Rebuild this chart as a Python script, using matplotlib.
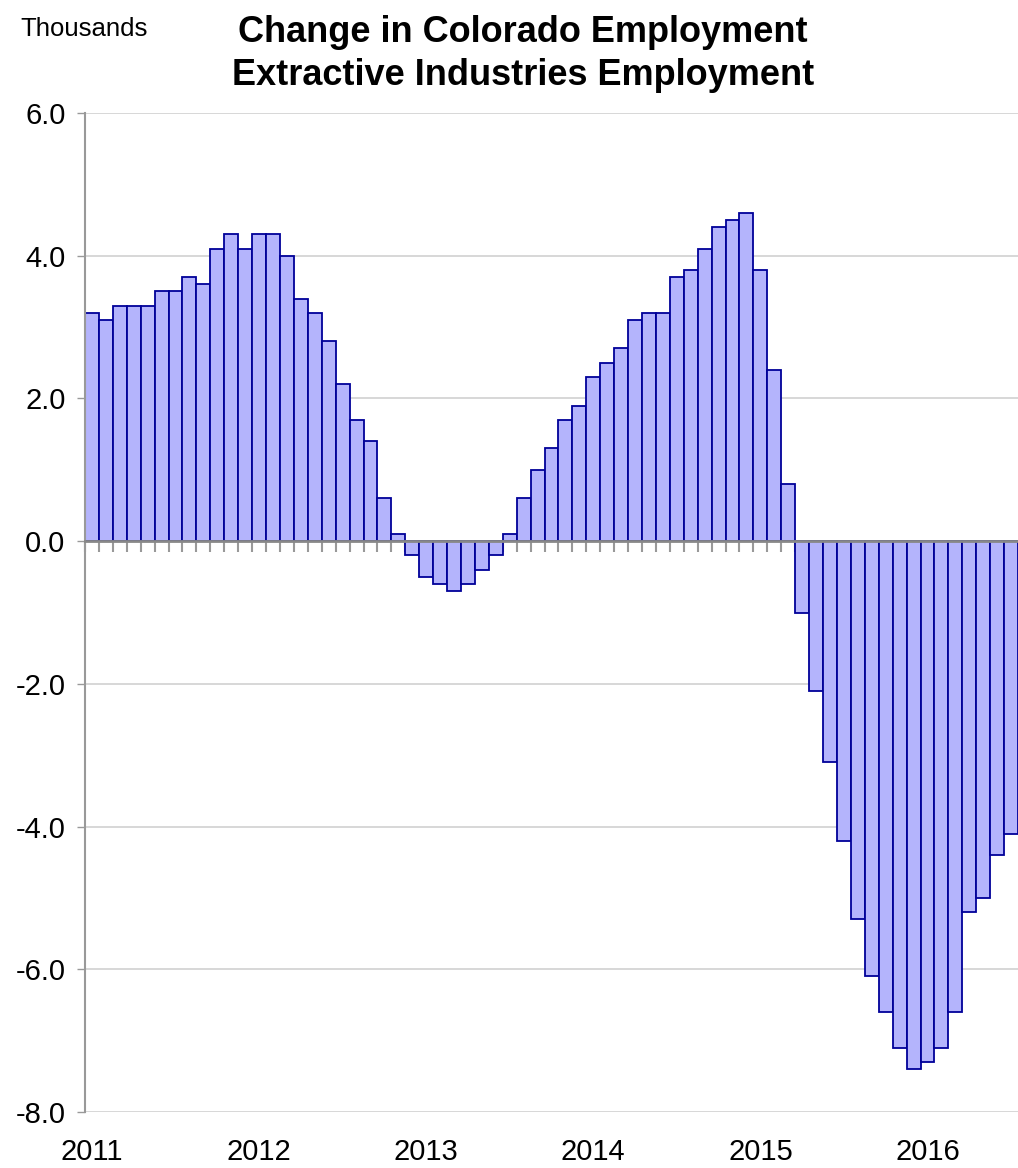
"""Change in Colorado employment, extractive industries (thousands, y/y)."""

import matplotlib
matplotlib.use("Agg")
import matplotlib.pyplot as plt
import numpy as np

plt.rcParams["font.family"] = ["Liberation Sans Narrow", "Liberation Sans", "DejaVu Sans"]

# monthly values, Jan 2011 .. Jul 2016
vals_2011 = [3.2, 3.1, 3.3, 3.3, 3.3, 3.5, 3.5, 3.7, 3.6, 4.1, 4.3, 4.1]
vals_2012 = [4.3, 4.3, 4.0, 3.4, 3.2, 2.8, 2.2, 1.7, 1.4, 0.6, 0.1, -0.2]
vals_2013 = [-0.5, -0.6, -0.7, -0.6, -0.4, -0.2, 0.1, 0.6, 1.0, 1.3, 1.7, 1.9]
vals_2014 = [2.3, 2.5, 2.7, 3.1, 3.2, 3.2, 3.7, 3.8, 4.1, 4.4, 4.5, 4.6]
vals_2015 = [3.8, 2.4, 0.8, -1.0, -2.1, -3.1, -4.2, -5.3, -6.1, -6.6, -7.1, -7.4]
vals_2016 = [-7.3, -7.1, -6.6, -5.2, -5.0, -4.4, -4.1]
years = ["2011", "2012", "2013", "2014", "2015", "2016"]
yticks = [6.0, 4.0, 2.0, 0.0, -2.0, -4.0, -6.0, -8.0]

values = np.array(vals_2011 + vals_2012 + vals_2013 + vals_2014 + vals_2015 + vals_2016)
x = np.arange(len(values))

fig = plt.figure(figsize=(10.18, 11.68), dpi=100)
ax = fig.add_axes([85 / 1018, 1 - 1112 / 1168, 1 - 85 / 1018, (1112 - 113) / 1168])

ax.bar(x, values, width=1.0, color="#b4b4fc", edgecolor="#000099", linewidth=1.3, zorder=2)

ax.set_xlim(-0.5, len(values) - 0.5)
ax.set_ylim(-8, 6)
ax.set_yticks(yticks)
ax.set_yticklabels([f"{v:.1f}" for v in yticks], fontsize=21)
ax.tick_params(axis="y", length=6, width=1, color="#999999", pad=8)
ax.grid(axis="y", color="#d4d4d4", linewidth=1.3, zorder=0)

# x axis drawn at zero, month ticks on bar boundaries
ax.spines["bottom"].set_position(("data", 0))
ax.spines["bottom"].set_color("#888888")
ax.spines["bottom"].set_linewidth(2)
ax.spines["bottom"].set_zorder(3)
ax.spines["left"].set_color("#999999")
ax.spines["left"].set_linewidth(1.5)
for s in ("top", "right"):
    ax.spines[s].set_visible(False)
ax.set_xticks(np.arange(len(values) + 1) - 0.5)
ax.set_xticklabels([])
ax.tick_params(axis="x", length=8, width=1.5, color="#999999", direction="out")

for i, yr in enumerate(years):
    ax.annotate(yr, xy=(i * 12, 0), xycoords=("data", "axes fraction"),
                xytext=(0, -26), textcoords="offset pixels",
                ha="center", va="top", fontsize=21)

fig.text(20 / 1018, 1 - 29 / 1168, "Thousands", fontsize=18.5, va="center", ha="left")
fig.text(523 / 1018, 1 - 54 / 1168,
         "Change in Colorado Employment\nExtractive Industries Employment",
         fontsize=26, fontweight="bold", ha="center", va="center", linespacing=1.3)

fig.savefig("out.png", dpi=100)
